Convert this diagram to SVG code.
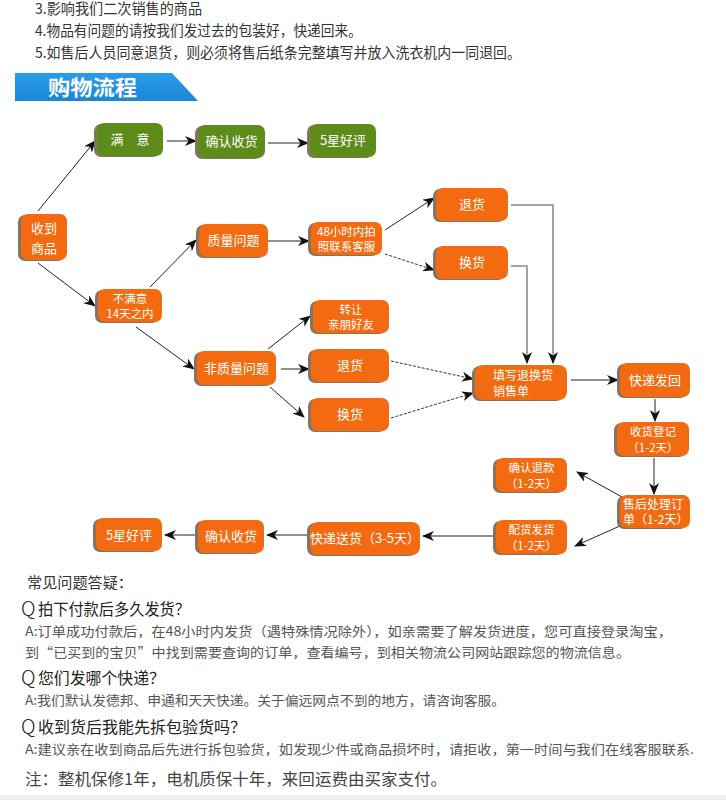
<svg xmlns="http://www.w3.org/2000/svg" width="726" height="800" viewBox="0 0 726 800">
<defs>
<style>
.o{fill:#f36a10}
.g{fill:#5e8c1a}
.sh{fill:#857461}
.t{fill:#fff;font-family:"Noto Sans CJK SC","Noto Sans",sans-serif;font-size:13px;text-anchor:middle}
.t2{fill:#fff;font-family:"Noto Sans CJK SC","Noto Sans",sans-serif;font-size:11.5px;text-anchor:middle}
.tl{fill:#fff;font-family:"Noto Sans CJK SC","Noto Sans",sans-serif;font-size:12px}
.c{stroke:#222;stroke-width:1;fill:none;marker-end:url(#ah)}
.d{stroke:#333;stroke-width:1;fill:none;stroke-dasharray:3 1.5;marker-end:url(#ah)}
.gr{stroke:#888;stroke-width:1.5;fill:none;marker-end:url(#ah)}
.tx{font-family:"Noto Sans CJK SC","Noto Sans",sans-serif;fill:#333}
</style>
<marker id="ah" viewBox="0 0 12 10" refX="11" refY="5" markerWidth="12" markerHeight="10" markerUnits="userSpaceOnUse" orient="auto">
<path d="M0,0 L12,5 L0,10 L3.5,5 z" fill="#111"/>
</marker>
<linearGradient id="bl" x1="0" y1="0" x2="0" y2="1">
<stop offset="0" stop-color="#2a9cec"/>
<stop offset="1" stop-color="#1b86d8"/>
</linearGradient>
</defs>
<rect width="726" height="800" fill="#fff"/>
<g id="intro" class="tx">
<text x="35" y="14" font-size="14.5" textLength="167" lengthAdjust="spacingAndGlyphs">3.影响我们二次销售的商品</text>
<text x="35" y="36" font-size="14.5" textLength="327" lengthAdjust="spacingAndGlyphs">4.物品有问题的请按我们发过去的包装好，快递回来。</text>
<text x="35" y="58" font-size="14.5" textLength="486" lengthAdjust="spacingAndGlyphs">5.如售后人员同意退货，则必须将售后纸条完整填写并放入洗衣机内一同退回。</text>
</g>
<g id="banner">
<polygon points="15,73 172,73 198,101 15,101" fill="url(#bl)"/>
<text x="48" y="95" font-family="Noto Sans CJK SC,sans-serif" font-size="21" font-weight="bold" fill="#fff" textLength="89" lengthAdjust="spacingAndGlyphs">购物流程</text>
</g>
<g id="connectors">
<path class="c" d="M38,211 L95,141"/>
<path class="c" d="M38,263 L95,306"/>
<path class="c" d="M167,141 L196,141"/>
<path class="c" d="M268,143 L308,143"/>
<path class="c" d="M150,287 L196,240"/>
<path class="c" d="M268,241 L309,241"/>
<path class="c" d="M385,230 L434,198"/>
<path class="d" d="M385,254 L434,270"/>
<path class="gr" d="M511,205 L553,205 L553,363"/>
<path class="gr" d="M511,266 L527,266 L527,363"/>
<path class="c" d="M136,327 L194,369"/>
<path class="c" d="M268,349 L310,316"/>
<path class="c" d="M281,369 L309,369"/>
<path class="c" d="M270,387 L304,417"/>
<path class="d" d="M391,361 L473,379"/>
<path class="d" d="M391,418 L473,393"/>
<path class="c" d="M571,380 L618,380"/>
<path class="c" d="M655,399 L655,421"/>
<path class="c" d="M654,458 L654,494"/>
<path class="c" d="M622,497 L577,472"/>
<path class="c" d="M622,525 L575,546"/>
<path class="c" d="M494,536 L423,536"/>
<path class="c" d="M308,535 L267,535"/>
<path class="c" d="M197,535 L165,535"/>
</g>
<g id="n-satisfied"><rect class="sh" x="94" y="124" width="66" height="33" rx="7"/><rect class="g" x="97" y="123" width="66" height="33" rx="7"/><text class="t" x="130" y="144">满　意</text></g>
<g id="n-confirm1"><rect class="sh" x="195" y="126" width="67" height="33" rx="7"/><rect class="g" x="198" y="125" width="67" height="33" rx="7"/><text class="t" x="231.5" y="146">确认收货</text></g>
<g id="n-5star1"><rect class="sh" x="307" y="125" width="66" height="33" rx="7"/><rect class="g" x="310" y="124" width="66" height="33" rx="7"/><text class="t" x="343" y="145" font-size="14">5星好评</text></g>
<g id="n-received"><rect class="sh" x="18" y="215" width="47" height="46" rx="7"/><rect class="o" x="21" y="214" width="46" height="46" rx="7"/><text class="t" x="44" y="233" font-size="14">收到</text><text class="t" x="44" y="253" font-size="14">商品</text></g>
<g id="n-unsatisfied"><rect class="sh" x="95" y="290" width="64" height="33" rx="7"/><rect class="o" x="98" y="289" width="64" height="33" rx="7"/><text class="t2" x="130" y="302.5">不满意</text><text class="t2" x="130" y="318">14天之内</text></g>
<g id="n-quality"><rect class="sh" x="196" y="225" width="69" height="33" rx="7"/><rect class="o" x="199" y="224" width="69" height="33" rx="7"/><text class="t" x="233.5" y="245">质量问题</text></g>
<g id="n-48h"><rect class="sh" x="308" y="223" width="71" height="33" rx="7"/><rect class="o" x="311" y="222" width="71" height="33" rx="7"/><text class="t2" x="346.5" y="235.5" font-size="11">48小时内拍</text><text class="t2" x="346.5" y="251" font-size="11">照联系客服</text></g>
<g id="n-return1"><rect class="sh" x="433" y="189" width="72" height="33" rx="7"/><rect class="o" x="436" y="188" width="72" height="33" rx="7"/><text class="t" x="472" y="209">退货</text></g>
<g id="n-exchange1"><rect class="sh" x="433" y="247" width="72" height="33" rx="7"/><rect class="o" x="436" y="246" width="72" height="33" rx="7"/><text class="t" x="472" y="267">换货</text></g>
<g id="n-transfer"><rect class="sh" x="310" y="301" width="76" height="33" rx="7"/><rect class="o" x="313" y="300" width="76" height="33" rx="7"/><text class="t2" x="351" y="313.5" font-size="12">转让</text><text class="t2" x="351" y="329" font-size="12">亲朋好友</text></g>
<g id="n-nonquality"><rect class="sh" x="194" y="352" width="79" height="34" rx="7"/><rect class="o" x="197" y="351" width="79" height="34" rx="7"/><text class="t" x="236.5" y="373">非质量问题</text></g>
<g id="n-return2"><rect class="sh" x="308" y="350" width="78" height="33" rx="7"/><rect class="o" x="311" y="349" width="78" height="33" rx="7"/><text class="t" x="350" y="370">退货</text></g>
<g id="n-exchange2"><rect class="sh" x="308" y="399" width="78" height="33" rx="7"/><rect class="o" x="311" y="398" width="78" height="33" rx="7"/><text class="t" x="350" y="419">换货</text></g>
<g id="n-form"><rect class="sh" x="472" y="366" width="92" height="35" rx="8"/><rect class="o" x="475" y="365" width="92" height="35" rx="8"/><text class="tl" x="493" y="379.5">填写退换货</text><text class="tl" x="493" y="396">销售单</text></g>
<g id="n-sendback"><rect class="sh" x="617" y="364" width="70" height="34" rx="7"/><rect class="o" x="620" y="363" width="70" height="34" rx="7"/><text class="t" x="655" y="385">快递发回</text></g>
<g id="n-register"><rect class="sh" x="614" y="423" width="72" height="34" rx="7"/><rect class="o" x="617" y="422" width="72" height="34" rx="7"/><text class="t2" x="653" y="436" font-size="12">收货登记</text><text class="t2" x="653" y="452">（1-2天）</text></g>
<g id="n-refund"><rect class="sh" x="493" y="459" width="71" height="34" rx="7"/><rect class="o" x="496" y="458" width="71" height="34" rx="7"/><text class="t2" x="531.5" y="472" font-size="12">确认退款</text><text class="t2" x="531.5" y="488">（1-2天）</text></g>
<g id="n-process"><rect class="sh" x="617" y="496" width="70" height="33" rx="7"/><rect class="o" x="620" y="495" width="70" height="33" rx="7"/><text class="tl" x="623" y="508.5">售后处理订</text><text class="tl" x="623" y="524" font-size="11.5">单（1-2天）</text></g>
<g id="n-ship"><rect class="sh" x="493" y="521" width="71" height="34" rx="7"/><rect class="o" x="496" y="520" width="71" height="34" rx="7"/><text class="t2" x="531.5" y="534" font-size="12">配货发货</text><text class="t2" x="531.5" y="550">（1-2天）</text></g>
<g id="n-deliver"><rect class="sh" x="307" y="523" width="110" height="33" rx="8"/><rect class="o" x="310" y="522" width="110" height="33" rx="8"/><text class="t" x="365" y="543" font-size="12.5">快递送货（3-5天）</text></g>
<g id="n-confirm2"><rect class="sh" x="195" y="521" width="66" height="33" rx="7"/><rect class="o" x="198" y="520" width="66" height="33" rx="7"/><text class="t" x="231" y="541">确认收货</text></g>
<g id="n-5star2"><rect class="sh" x="93" y="519" width="66" height="33" rx="7"/><rect class="o" x="96" y="518" width="66" height="33" rx="7"/><text class="t" x="129" y="540" font-size="14">5星好评</text></g>
<g id="faq" class="tx">
<text x="27" y="588" font-size="15" textLength="106" lengthAdjust="spacingAndGlyphs">常见问题答疑：</text>
<text x="21" y="616" font-size="20" font-weight="300" fill="#222">Q</text>
<text x="38" y="615" font-size="16" fill="#222" textLength="152" lengthAdjust="spacingAndGlyphs">拍下付款后多久发货？</text>
<text x="25" y="636" font-size="13" fill="#555" textLength="647" lengthAdjust="spacingAndGlyphs">A:订单成功付款后，在48小时内发货（遇特殊情况除外），如亲需要了解发货进度，您可直接登录淘宝，</text>
<text x="25" y="657" font-size="13" fill="#555" textLength="605" lengthAdjust="spacingAndGlyphs">到“已买到的宝贝”中找到需要查询的订单，查看编号，到相关物流公司网站跟踪您的物流信息。</text>
<text x="21" y="685" font-size="20" font-weight="300" fill="#222">Q</text>
<text x="38" y="684" font-size="16" fill="#222" textLength="127" lengthAdjust="spacingAndGlyphs">您们发哪个快递？</text>
<text x="25" y="705" font-size="13" fill="#555" textLength="480" lengthAdjust="spacingAndGlyphs">A:我们默认发德邦、申通和天天快递。关于偏远网点不到的地方，请咨询客服。</text>
<text x="21" y="734" font-size="20" font-weight="300" fill="#222">Q</text>
<text x="38" y="733" font-size="16" fill="#222" textLength="208" lengthAdjust="spacingAndGlyphs">收到货后我能先拆包验货吗？</text>
<text x="25" y="754" font-size="13" fill="#555" textLength="669" lengthAdjust="spacingAndGlyphs">A:建议亲在收到商品后先进行拆包验货，如发现少件或商品损坏时，请拒收，第一时间与我们在线客服联系.</text>
<text x="25" y="785" font-size="16" fill="#444" textLength="422" lengthAdjust="spacingAndGlyphs">注：整机保修1年，电机质保十年，来回运费由买家支付。</text>
</g>
<rect x="0" y="795" width="726" height="5" fill="#eeeeee"/>
</svg>
